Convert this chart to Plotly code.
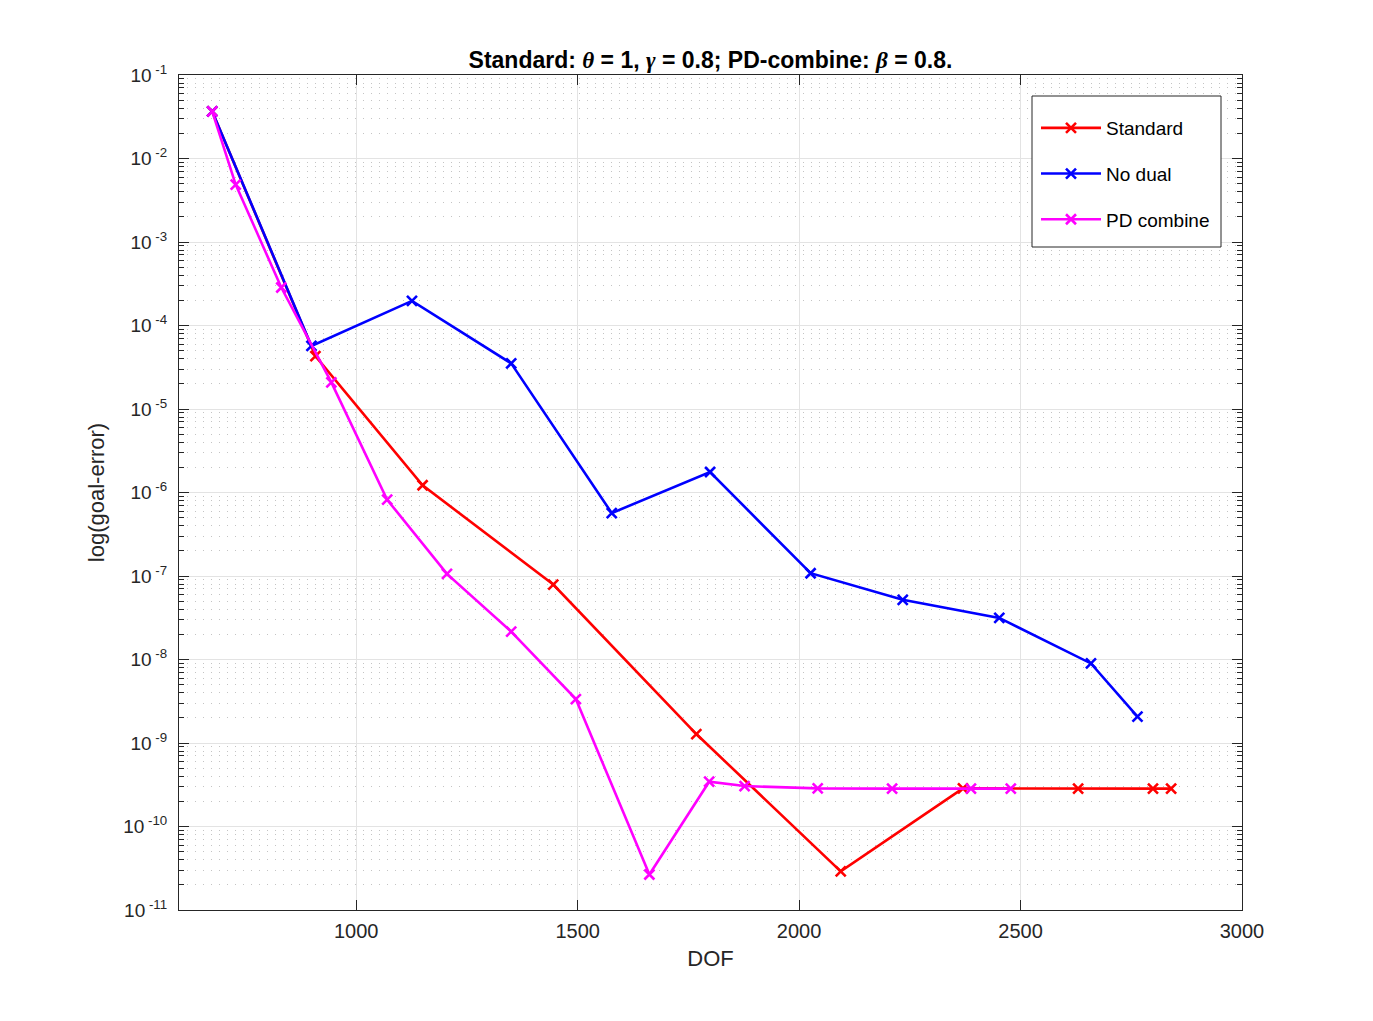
import plotly.graph_objects as go

# Data
std_dof = [675, 908, 1150, 1445, 1768, 2094, 2370, 2630, 2799, 2840]
std_err = [3.66e-2, 4.3e-5, 1.22e-6, 7.9e-8, 1.28e-9, 2.9e-11, 2.86e-10, 2.84e-10, 2.84e-10, 2.84e-10]

nod_dof = [675, 899, 1126, 1350, 1577, 1799, 2026, 2234, 2452, 2659, 2764]
nod_err = [3.66e-2, 5.69e-5, 1.97e-4, 3.52e-5, 5.67e-7, 1.76e-6, 1.08e-7, 5.18e-8, 3.15e-8, 8.97e-9, 2.07e-9]

pdc_dof = [675, 728, 831, 944, 1070, 1205, 1350, 1496, 1662, 1797, 1877, 2042, 2210, 2388, 2478]
pdc_err = [3.66e-2, 4.87e-3, 2.85e-4, 2.08e-5, 8.2e-7, 1.06e-7, 2.16e-8, 3.36e-9, 2.66e-11, 3.44e-10, 3.05e-10, 2.86e-10, 2.84e-10, 2.84e-10, 2.84e-10]

series_names = ["Standard", "No dual", "PD combine"]
series_colors = ["#FF0000", "#0000FF", "#FF00FF"]

y_tickvals = [10.0 ** (-k) for k in range(1, 12)]
y_ticktext = [f"10<sup> -{k}</sup>" for k in range(1, 12)]
x_tickvals = [1000, 1500, 2000, 2500, 3000]

fig = go.Figure()
for name, xs, ys, col in zip(series_names, [std_dof, nod_dof, pdc_dof],
                             [std_err, nod_err, pdc_err], series_colors):
    fig.add_trace(go.Scatter(
        x=xs, y=ys, name=name, mode="lines+markers", legendgroup=name,
        line=dict(color=col, width=2.6),
        marker=dict(symbol="x-thin", size=10, line=dict(color=col, width=2.6)),
    ))

axcol = "#262626"
greek = '<span style="font-family:Liberation Serif">'
title_text = ("<b>Standard: " + greek + "<i>θ</i></span> = 1, " + greek + "<i>γ</i></span> = 0.8; "
              "PD-combine: " + greek + "<i>β</i></span> = 0.8.</b>")

L, R, T, B = 179, 1242, 75, 910
W, H = 1373, 1021
pw, ph = R - L, B - T

fig.update_layout(
    width=W, height=H,
    paper_bgcolor="white", plot_bgcolor="white",
    margin=dict(l=L, r=W - R, t=T, b=H - B),
    font=dict(family="Liberation Sans, Arial, sans-serif", color=axcol, size=19),
    title=dict(
        text=title_text,
        x=(L + R) / 2 / W, xanchor="center",
        y=1 - 60 / H, yanchor="middle",
        font=dict(size=23, color="black"),
    ),
    legend=dict(
        x=(1036 - L) / pw, xanchor="left", y=(B - 109) / ph, yanchor="top",
        bgcolor="rgba(0,0,0,0)", borderwidth=0,
        font=dict(size=19, color="black"),
        tracegroupgap=18,
        itemwidth=60,
    ),
    shapes=[dict(
        type="rect", xref="paper", yref="paper", layer="above",
        x0=(1032 - L) / pw, x1=(1221 - L) / pw,
        y0=(B - 247) / ph, y1=(B - 96) / ph,
        fillcolor="white", line=dict(color=axcol, width=1),
    )],
    showlegend=True,
)

fig.update_xaxes(
    type="linear", range=[600, 3000],
    tickvals=x_tickvals, ticks="inside", ticklen=10, tickcolor=axcol,
    showline=True, linecolor=axcol, linewidth=1, mirror="allticks",
    showgrid=True, gridcolor="#E3E3E3", gridwidth=1,
    zeroline=False, ticklabelstandoff=3,
    title=dict(text="DOF", font=dict(size=22), standoff=9),
    tickfont=dict(size=20),
)
fig.update_yaxes(
    type="log", range=[-11, -1],
    tickvals=y_tickvals, ticktext=y_ticktext, ticks="inside", ticklen=10, tickcolor=axcol,
    showline=True, linecolor=axcol, linewidth=1, mirror="allticks",
    showgrid=True, gridcolor="#E3E3E3", gridwidth=1,
    minor=dict(dtick="D1", ticks="inside", ticklen=5, tickcolor=axcol, showgrid=True,
               gridcolor="#C4C4C4", griddash="1px,7px", gridwidth=1),
    zeroline=False, ticklabelstandoff=7,
    title=dict(text="log(goal-error)", font=dict(size=22), standoff=12),
    tickfont=dict(size=19),
)

fig.write_html("out.html")
